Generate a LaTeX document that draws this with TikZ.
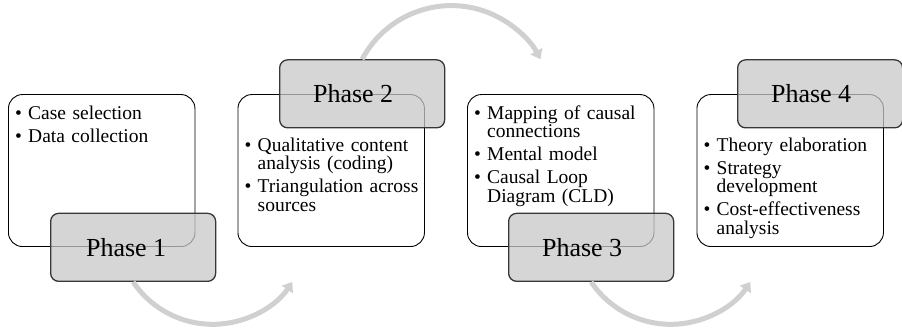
\documentclass[tikz,border=0pt]{standalone}
\usepackage{fontspec}
\setmainfont{Liberation Serif}
\usetikzlibrary{arrows.meta}
\definecolor{arcgray}{RGB}{208,208,208}
\definecolor{boxedge}{RGB}{55,55,55}
\definecolor{boxfill}{RGB}{200,200,200}
\newcommand{\bitem}[1]{\par\noindent\hangindent=13pt\hangafter=1\makebox[13pt][l]{\textbullet}#1\par}
\newcommand{\itemgap}{\vspace{4.5pt}}
\begin{document}
\begin{tikzpicture}[x=1pt,y=1pt,
  wbox/.style={draw=black, line width=0.9pt, rounded corners=14pt, fill=white,
    minimum width=186.5pt, minimum height=152pt, anchor=south west, inner sep=0pt},
  gbox/.style={draw=boxedge, line width=1.3pt, rounded corners=8pt, fill=boxfill,
    fill opacity=0.75, text opacity=1, minimum width=165pt, minimum height=68pt,
    anchor=south west, inner sep=0pt, font=\fontsize{26}{28}\selectfont},
  txt/.style={anchor=north west, inner sep=0pt, text width=180pt, align=left,
    font=\fontsize{19.5}{18.5}\selectfont},
  flow/.style={draw=arcgray, line width=5pt, -{Triangle[length=9pt,width=13pt]}}]
\useasboundingbox (0,0) rectangle (902,328);
% white boxes
\node[wbox] (w1) at (8,81) {};
\node[wbox] (w2) at (237.5,81) {};
\node[wbox] (w3) at (467,81) {};
\node[wbox] (w4) at (696.5,81) {};
% texts
\node[txt] (t1) at (15,227.5) {\bitem{Case selection}\itemgap\bitem{Data collection}};
\node[txt] (t2) at (244.5,195.5) {\bitem{Qualitative content\newline analysis (coding)}\itemgap\bitem{Triangulation across\newline sources}};
\node[txt] (t3) at (474,227.5) {\bitem{Mapping of causal\newline connections}\itemgap\bitem{Mental model}\itemgap\bitem{Causal Loop\newline Diagram (CLD)}};
\node[txt] (t4) at (703.5,195.5) {\bitem{Theory elaboration}\itemgap\bitem{Strategy\newline development}\itemgap\bitem{Cost-effectiveness\newline analysis}};
% gray phase boxes
\node[gbox] (g1) at (50,46) {Phase 1\kern14pt};
\node[gbox] (g2) at (279,199.5) {Phase 2\kern18pt};
\node[gbox] (g3) at (508,46) {Phase 3\kern18pt};
\node[gbox] (g4) at (737,199.5) {Phase 4\kern18pt};
% arrows
\draw[flow] (g1.south) arc[start angle=214, end angle=326, radius=96pt];
\draw[flow] (g2.north) arc[start angle=152, end angle=28, radius=101pt];
\draw[flow] (g3.south) arc[start angle=214, end angle=326, radius=96pt];
\end{tikzpicture}
\end{document}
